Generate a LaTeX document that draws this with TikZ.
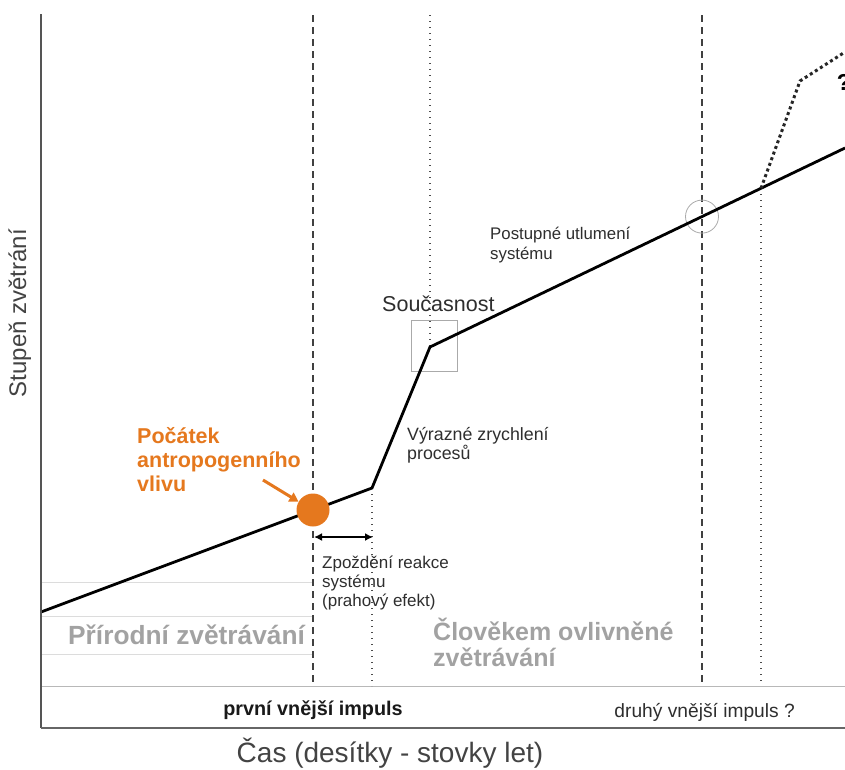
\documentclass[tikz,border=0pt]{standalone}
\usepackage{fontspec}
\setmainfont{Liberation Sans}
\usetikzlibrary{arrows.meta}

\definecolor{axisgray}{HTML}{555555}
\definecolor{gridgray}{HTML}{DCDCDC}
\definecolor{sepgray}{HTML}{B8B8B8}
\definecolor{framegray}{HTML}{AAAAAA}
\definecolor{labelgray}{HTML}{A2A2A2}
\definecolor{textdark}{HTML}{2E2E2E}
\definecolor{accent}{HTML}{E5781E}

\begin{document}
\begin{tikzpicture}[x=1pt,y=-1pt,
  axisline/.style={draw=axisgray,line width=1.6pt},
  baseline line/.style={draw=axisgray!90,line width=2pt},
  sepline/.style={draw=sepgray,line width=0.8pt},
  gridline/.style={draw=gridgray,line width=0.8pt},
  trend/.style={draw=black,line width=2.8pt,line join=miter},
  trendalt/.style={draw=black!85,line width=3pt,dash pattern=on 3pt off 3pt},
  impulsedash/.style={draw=black!75,line width=1.3pt,dash pattern=on 7pt off 5pt},
  delaydot/.style={draw=black!70,line width=1.1pt,dash pattern=on 1.1pt off 4.9pt},
  focusmark/.style={draw=framegray,line width=0.8pt},
  txt/.style={inner sep=0pt,text=textdark,font=\fontsize{17}{19}\selectfont},
  region/.style={inner sep=0pt,text=labelgray,font=\fontsize{25}{26}\selectfont\bfseries},
  axislabel/.style={inner sep=0pt,text=textdark!90,font=\fontsize{24}{28}\selectfont},
]
\useasboundingbox (0,0) rectangle (845,769);

% axes and horizontal guides
\coordinate (axtop) at (41,14);
\coordinate (axorig) at (41,728);
\coordinate (axend) at (845,728);
\coordinate (sepL) at (41,686);
\coordinate (sepR) at (845,686);
\foreach \gy [count=\i] in {582,616,654}{
  \coordinate (gl\i) at (41,\gy);
  \coordinate (gr\i) at (313,\gy);
  \draw[gridline] (gl\i) -- (gr\i);
}
\draw[sepline] (sepL) -- (sepR);

% weathering trend, key points
\coordinate (c0) at (41,612);
\coordinate (c1) at (372,488);
\coordinate (c2) at (430,347);
\coordinate (c3) at (845,148);
\coordinate (fork) at (761,188.3);
\coordinate (alt1) at (800,81);
\coordinate (alt2) at (845,52);

% vertical impulse and delay markers
\coordinate (imp1top) at (313,15);
\coordinate (imp1bot) at (313,686);
\coordinate (nowtop) at (430,15);
\coordinate (delaybot) at (372,686);
\coordinate (imp2top) at (702,15);
\coordinate (imp2bot) at (702,686);
\coordinate (forkbot) at (761,686);
\draw[impulsedash] (imp1top) -- (imp1bot);
\draw[impulsedash] (imp2top) -- (imp2bot);
\draw[delaydot] (nowtop) -- (c2);
\draw[delaydot] (c1) -- (delaybot);
\draw[delaydot] (fork) -- (forkbot);

% highlight frames
\node[focusmark,draw,minimum width=46pt,minimum height=51pt,inner sep=0pt] (nowbox) at (434,345.5) {};
\node[focusmark,draw,circle,minimum size=33pt,inner sep=0pt] (ring) at (702,216.6) {};

% trend lines
\draw[trend] (c0) -- (c1) -- (c2) -- (c3);
\draw[trendalt] (fork) -- (alt1) -- (alt2);

% axes drawn over the guides
\draw[axisline] (axtop) -- (axorig);
\draw[baseline line] (axorig) -- (axend);

% onset of human influence
\node[circle,fill=accent,minimum size=33pt,inner sep=0pt] (onset) at (313,510) {};
\coordinate (arrowtail) at (263,480);
\draw[accent,line width=3pt,-{Triangle[length=9pt,width=10pt]}] (arrowtail) -- (onset.150);
\node[inner sep=0pt,anchor=north west,align=left,text=accent,
      font=\fontsize{21.5}{24}\selectfont\bfseries] (onsetlabel) at (137,427)
  {Počátek\\antropogenního\\vlivu};

% delay of the system response
\coordinate (dl) at (314,537);
\coordinate (dr) at (373,537);
\draw[black,line width=2.4pt,{Latex[length=8pt,width=8pt]}-{Latex[length=8pt,width=8pt]}] (dl) -- (dr);

% labels along the trend
\node[txt,anchor=north west,align=left] (delaytxt) at (322,556)
  {Zpoždění reakce\\systému\\(prahový efekt)};
\node[txt,anchor=north west,align=left,font=\fontsize{17.8}{19}\selectfont] (accel) at (407,427)
  {Výrazné zrychlení\\procesů};
\node[txt,anchor=north west,align=left,font=\fontsize{16.8}{20}\selectfont] (damp) at (490,227)
  {Postupné utlumení\\systému};
\node[inner sep=0pt,anchor=base west,text=textdark,font=\fontsize{21.5}{24}\selectfont] (now) at (382,311) {Současnost};
\node[inner sep=0pt,anchor=base,text=black,font=\fontsize{23}{24}\selectfont\bfseries] (qmark) at (844,90) {?};

% regions
\node[region,anchor=base west,font=\fontsize{26.3}{27}\selectfont\bfseries] (natural) at (68,644) {Přírodní zvětrávání};
\node[region,anchor=north west,align=left] (human) at (433,618) {Člověkem ovlivněné\\zvětrávání};

% impulses on the time axis
\node[inner sep=0pt,anchor=base,text=black!90,font=\fontsize{19.8}{20}\selectfont\bfseries] (imp1) at (313,715) {první vnější impuls};
\node[txt,anchor=base east,font=\fontsize{19.2}{20}\selectfont] (imp2) at (795,717) {druhý vnější impuls ?};

% axis titles
\node[axislabel,anchor=base,font=\fontsize{28}{30}\selectfont] (xlabel) at (390,762) {Čas (desítky - stovky let)};
\node[axislabel,anchor=base] (ylabel) [rotate=90] at (26,313) {Stupeň zvětrání};
\end{tikzpicture}
\end{document}
